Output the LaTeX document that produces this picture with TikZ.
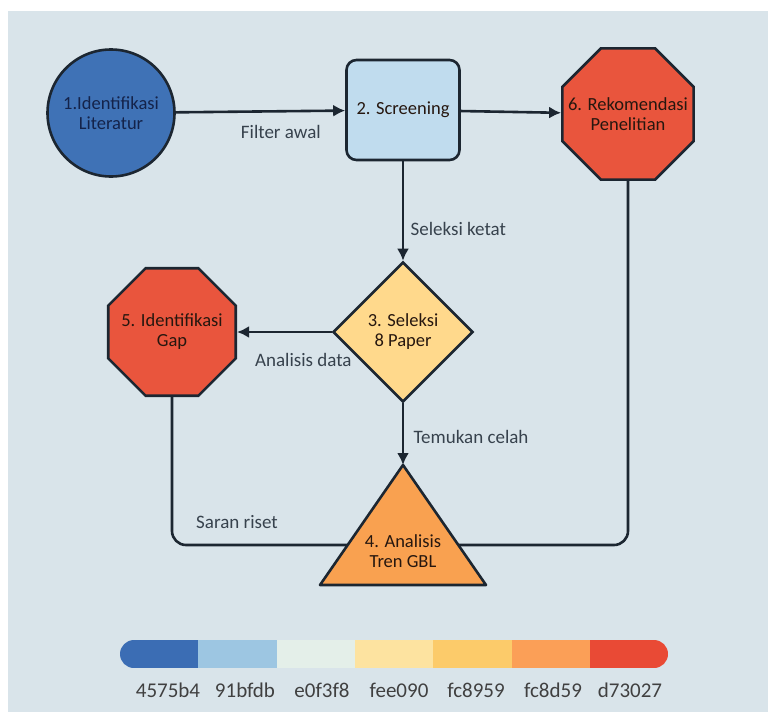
\documentclass[tikz,border=0pt]{standalone}
\usepackage{fontspec}
\setmainfont{Carlito}
\usetikzlibrary{positioning,shapes.geometric,arrows.meta}

\definecolor{panelbg}{HTML}{D9E4EA}
\definecolor{ink}{HTML}{1C2631}
\definecolor{labelgray}{HTML}{37424D}
\definecolor{navytext}{HTML}{14234A}
\definecolor{nodetext}{HTML}{26170F}
\definecolor{litfill}{HTML}{3F72B6}
\definecolor{scrfill}{HTML}{C0DCEE}
\definecolor{redfill}{HTML}{E9553D}
\definecolor{selfill}{HTML}{FFD98C}
\definecolor{trenfill}{HTML}{F9A150}
\definecolor{barA}{HTML}{3B6DB4}
\definecolor{barB}{HTML}{9DC6E2}
\definecolor{barC}{HTML}{E4EFE9}
\definecolor{barD}{HTML}{FDE3A0}
\definecolor{barE}{HTML}{FCCB6A}
\definecolor{barF}{HTML}{FB9F57}
\definecolor{barG}{HTML}{E94A35}

\tikzset{
  stage/.style = {draw = ink, line width = 2.6pt, align = center, text = nodetext,
                  font = \fontsize{18.5}{20}\selectfont},
  octa/.style  = {draw = ink, line width = 2.6pt, regular polygon, regular polygon sides = 8,
                  fill = redfill, label = {[stage, draw = none]center:#1}},
  flow/.style  = {draw = ink, line width = 2.6pt, -{Latex[length = 12pt, width = 12pt]}},
  back/.style  = {draw = ink, line width = 2.6pt, rounded corners = 14pt},
  lbl/.style   = {font = \fontsize{19}{21}\selectfont, text = labelgray},
  hex/.style   = {font = \fontsize{21}{23}\selectfont, text = black!75}
}

\begin{document}
\begin{tikzpicture}[x = 1pt, y = -1pt]
    \useasboundingbox (0,0) rectangle (768,712);
    \fill[white] (0,0) rectangle (768,712);
    \fill[panelbg] (8,11) rectangle (768,712);

    % stages
    \node[stage, circle, fill = litfill, text = navytext, minimum size = 127pt] (lit) at (111,113) {1.Identifikasi\\Literatur};
    \node[stage, rounded corners = 10pt, fill = scrfill, minimum width = 113pt, minimum height = 100pt] (scr) at (403,110) {2. Screening};
    \node[octa = {6. Rekomendasi\\Penelitian}, minimum size = 142pt] (rek) at (628,114) {};
    \node[stage, diamond, fill = selfill, minimum width = 140pt, minimum height = 140pt] (sel) at (403,332) {3. Seleksi\\8 Paper};
    \node[octa = {5. Identifikasi\\Gap}, minimum size = 138pt] (gap) at (172,332) {};

    % triangle corners
    \coordinate (tip) at (403,465);
    \coordinate (baseR) at (486,585);
    \coordinate (baseL) at (320,585);
    \coordinate (edgeL) at (348,545);
    \coordinate (edgeR) at (458,545);

    % back lines into the triangle
    \draw[back] (gap.south) |- (edgeL);
    \draw[back] (rek.south) |- (edgeR);
    \node[lbl] (saran) at (237,522) {Saran riset};

    \filldraw[fill = trenfill, draw = ink, line width = 2.6pt, line join = round] (tip) -- (baseR) -- (baseL) -- cycle;
    \node[stage, draw = none] (tren) at (403,551) {4. Analisis\\Tren GBL};

    % arrows
    \draw[flow] (lit) -- node[lbl, below = 9pt, pos = 0.62] (filter) {Filter awal} (scr);
    \draw[flow] (scr) -- (rek);
    \draw[flow] (scr) -- node[lbl, right = 3pt, pos = 0.68] (ketat) {Seleksi ketat} (sel);
    \draw[flow] (sel) -- node[lbl, below = 17pt, pos = 0.3] (analisis) {Analisis data} (gap);
    \draw[flow] (sel) -- node[lbl, right = 6pt, pos = 0.55] (celah) {Temukan celah} (tip);

    % colour bar
    \begin{scope}
      \clip[rounded corners = 14pt] (120,640) rectangle (668,668);
      \foreach \c [count = \i from 0] in {barA,barB,barC,barD,barE,barF,barG}
        \fill[\c] (120+78.3*\i,640) rectangle +(78.4,28);
    \end{scope}
    \foreach \t [count = \i from 0] in {4575b4,91bfdb,e0f3f8,fee090,fc8959,fc8d59,d73027}
      \node[hex] (hex\i) at (168+77*\i,690) {\t};

\end{tikzpicture}
\end{document}
